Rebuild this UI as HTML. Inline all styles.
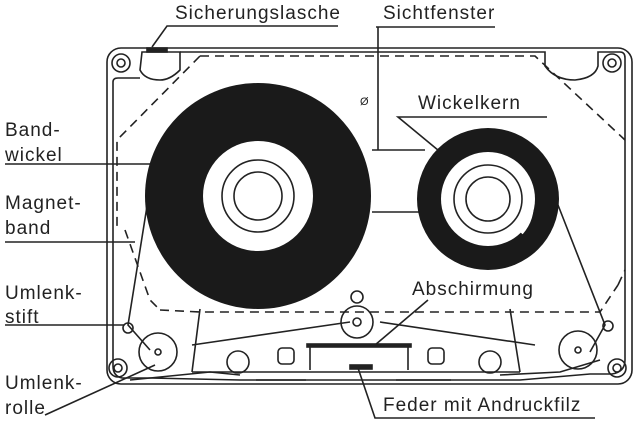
<!DOCTYPE html>
<html><head><meta charset="utf-8"><style>
html,body{margin:0;padding:0;background:#fff;}
svg{display:block;}
text{font-family:"Liberation Sans",sans-serif;font-size:19px;letter-spacing:1px;fill:#222;}
</style></head><body>
<svg width="640" height="426" viewBox="0 0 640 426" xmlns="http://www.w3.org/2000/svg">
<g fill="none" stroke="#222" stroke-width="1.6">
<rect x="107" y="48" width="525" height="336" rx="14"/>
<path d="M142 52 H180 V70 Q170 80 160 80 Q145 80 140 70 Z" />
<path d="M180 52 H545 V66 Q555 80 575 80 Q595 78 598 66 V52 H620 Q625 52 625 58 V360 Q625 372 612 374 H590 L520 380 H240 L150 378 H122 Q113 376 113 366 V82 Q113 78 118 78 H140"/>
<rect x="147" y="48" width="20" height="4" fill="#222"/>
<circle cx="121" cy="63" r="9"/><circle cx="121" cy="63" r="4"/>
<circle cx="612" cy="63" r="9"/><circle cx="612" cy="63" r="4"/>
<circle cx="118" cy="368" r="9"/><circle cx="118" cy="368" r="4"/>
<circle cx="617" cy="368" r="9"/><circle cx="617" cy="368" r="4"/>
<path d="M200 56 H535 L625 140 M200 56 L117 140 V230 M160 310 L200 312 H600 L618 285" stroke-dasharray="9 6"/>
<path d="M125 230 L150 300 L160 310 M618 285 L625 270" stroke-dasharray="9 6"/>
<line x1="372" y1="150" x2="425" y2="150"/><line x1="372" y1="212" x2="425" y2="212"/>
<line x1="378" y1="27" x2="378" y2="150"/>
<path d="M148 200 L128 325 L150 350 M558 205 L605 325 L590 352"/>
<path d="M130 380 L210 372 L240 375 M500 375 L560 372 L600 360"/>
<circle cx="128" cy="328" r="5"/><circle cx="608" cy="326" r="5"/>
<circle cx="158" cy="352" r="19"/><circle cx="158" cy="352" r="3"/>
<circle cx="578" cy="350" r="19"/><circle cx="578" cy="350" r="3"/>
<path d="M200 309 L192 372 M510 309 L520 372 M192 345 L350 322 M380 322 L535 345"/>
<path d="M192 372 H520"/>
<circle cx="357" cy="322" r="16"/><circle cx="357" cy="322" r="4"/>
<circle cx="357" cy="297" r="6"/>
<circle cx="238" cy="362" r="11"/><circle cx="490" cy="362" r="11"/>
<rect x="278" y="348" width="16" height="16" rx="4"/><rect x="428" y="348" width="16" height="16" rx="4"/>
<rect x="307" y="344" width="104" height="3" fill="#222"/>
<path d="M310 344 V370 M408 344 V370"/>
<rect x="350" y="365" width="22" height="4" fill="#222"/>
<path d="M256 380 h50 M396 380 h55"/>
<path d="M338 26 H167 L152 47"/>
<path d="M376 27 H495"/>
<path d="M547 117 H398 L450 160"/>
<path d="M5 164 H150"/>
<path d="M5 242 H135"/>
<path d="M5 325 H124"/>
<path d="M45 415 L155 365"/>
<path d="M428 300 L375 345"/>
<path d="M595 418 H375 L358 368"/>
</g>
<circle cx="258" cy="196" r="113" fill="#1a1a1a"/>
<circle cx="258" cy="196" r="55" fill="#fff"/>
<circle cx="258" cy="196" r="36" fill="none" stroke="#222" stroke-width="1.6"/>
<circle cx="258" cy="196" r="24" fill="none" stroke="#222" stroke-width="1.6"/>
<circle cx="488" cy="199" r="71" fill="#1a1a1a"/>
<circle cx="488" cy="199" r="47" fill="#fff"/>
<circle cx="488" cy="199" r="34" fill="none" stroke="#222" stroke-width="1.6"/>
<circle cx="488" cy="199" r="22" fill="none" stroke="#222" stroke-width="1.6"/>
<path d="M225 158 Q240 145 262 150" fill="none" stroke="#fff" stroke-width="8"/>
<path d="M520 232 Q532 218 530 200" fill="none" stroke="#fff" stroke-width="7"/>
<text x="360" y="105" style="font-size:11px">Ø</text>
<text x="175" y="19">Sicherungslasche</text>
<text x="383" y="19">Sichtfenster</text>
<text x="418" y="109">Wickelkern</text>
<text x="5" y="136">Band-</text><text x="5" y="161">wickel</text>
<text x="5" y="209">Magnet-</text><text x="5" y="234">band</text>
<text x="5" y="299">Umlenk-</text><text x="5" y="323">stift</text>
<text x="5" y="389">Umlenk-</text><text x="5" y="414">rolle</text>
<text x="412" y="295">Abschirmung</text>
<text x="383" y="411">Feder mit Andruckfilz</text>
</svg>
</body></html>
